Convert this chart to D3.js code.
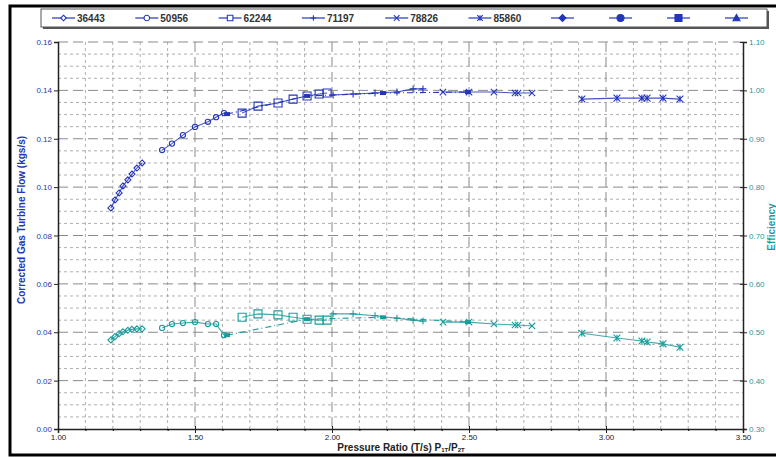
<!DOCTYPE html>
<html>
<head>
<meta charset="utf-8">
<script src="https://cdn.jsdelivr.net/npm/d3@7"></script>
<style>
  body { margin: 0; background: #fff; }
  svg { display: block; font-family: "Liberation Sans", Arial, sans-serif; }
</style>
</head>
<body>
<svg id="chart" width="776" height="457"></svg>
<script>
// speed lines (legend labels)
var speeds = ["36443", "50956", "62244", "71197", "78826", "85860"];

// pressure ratio, corrected flow and efficiency per speed line
var pr36443 = [1.193, 1.208, 1.223, 1.237, 1.255, 1.270, 1.288, 1.307];
var flow36443 = [0.0914, 0.0947, 0.0976, 0.1005, 0.1030, 0.1054, 0.1079, 0.1100];
var eff36443 = [0.484, 0.491, 0.497, 0.501, 0.504, 0.506, 0.507, 0.507];

var pr50956 = [1.380, 1.416, 1.456, 1.500, 1.547, 1.577, 1.606];
var flow50956 = [0.1153, 0.1180, 0.1215, 0.1249, 0.1270, 0.1289, 0.1306];
var eff50956 = [0.509, 0.517, 0.519, 0.521, 0.517, 0.517, 0.494];

var pr62244 = [1.672, 1.730, 1.803, 1.858, 1.909, 1.953, 1.982];
var flow62244 = [0.1306, 0.1335, 0.1348, 0.1364, 0.1377, 0.1385, 0.1389];
var eff62244 = [0.531, 0.538, 0.536, 0.531, 0.527, 0.525, 0.525];

var pr71197 = [2.004, 2.077, 2.157, 2.237, 2.296, 2.332];
var flow71197 = [0.1381, 0.1385, 0.1389, 0.1393, 0.1406, 0.1406];
var eff71197 = [0.538, 0.538, 0.534, 0.529, 0.525, 0.523];

var pr78826 = [2.405, 2.500, 2.591, 2.668, 2.679, 2.730];
var flow78826 = [0.1393, 0.1393, 0.1393, 0.1389, 0.1389, 0.1389];
var eff78826 = [0.521, 0.521, 0.517, 0.515, 0.515, 0.513];

var pr85860 = [2.912, 3.040, 3.131, 3.150, 3.208, 3.270];
var flow85860 = [0.1364, 0.1368, 0.1368, 0.1368, 0.1368, 0.1364];
var eff85860 = [0.498, 0.488, 0.482, 0.480, 0.476, 0.469];

// operating line (filled markers, dash-dot)
var prOp = [1.617, 1.909, 2.186, 2.496];
var flowOp = [0.1302, 0.1377, 0.1389, 0.1393];
var effOp = [0.494, 0.527, 0.531, 0.521];

var xTicks = [1.0, 1.5, 2.0, 2.5, 3.0, 3.5];
var yTicks = [0, 0.02, 0.04, 0.06, 0.08, 0.10, 0.12, 0.14, 0.16];
var y2Ticks = [0.3, 0.4, 0.5, 0.6, 0.7, 0.8, 0.9, 1.0, 1.1];

var blue = "#2436b8", teal = "#1a9c9c";

var series = [
  { name: speeds[0], shape: "diamond", pr: pr36443, flow: flow36443, eff: eff36443 },
  { name: speeds[1], shape: "circle", pr: pr50956, flow: flow50956, eff: eff50956 },
  { name: speeds[2], shape: "square", pr: pr62244, flow: flow62244, eff: eff62244 },
  { name: speeds[3], shape: "plus", pr: pr71197, flow: flow71197, eff: eff71197 },
  { name: speeds[4], shape: "x", pr: pr78826, flow: flow78826, eff: eff78826 },
  { name: speeds[5], shape: "star", pr: pr85860, flow: flow85860, eff: eff85860 }
];

function shapePath(shape, r) {
  switch (shape) {
    case "diamond": return "M0," + (-r) + "L" + r + ",0L0," + r + "L" + (-r) + ",0Z";
    case "circle": return d3.symbol(d3.symbolCircle, Math.PI * r * r)();
    case "square": return "M" + (-r) + "," + (-r) + "H" + r + "V" + r + "H" + (-r) + "Z";
    case "plus": return "M" + (-r) + ",0H" + r + "M0," + (-r) + "V" + r;
    case "x": return "M" + (-r) + "," + (-r) + "L" + r + "," + r + "M" + (-r) + "," + r + "L" + r + "," + (-r);
    case "star": return "M" + (-r) + "," + (-r) + "L" + r + "," + r + "M" + (-r) + "," + r + "L" + r + "," + (-r) + "M0," + (-r) + "V" + r;
    case "triangle": return "M0," + (-r) + "L" + r + "," + (r * 0.8) + "L" + (-r) + "," + (r * 0.8) + "Z";
  }
}
var shapeSize = { diamond: 3, circle: 2.6, square: 4, plus: 3.5, x: 3.2, star: 3.4 };

var margin = { top: 42, left: 58 }, width = 685, height = 387;
var svg = d3.select("#chart");

// outer frame
svg.append("rect").attr("x", 10).attr("y", 6).attr("width", 800).attr("height", 449)
  .attr("fill", "none").attr("stroke", "#000").attr("stroke-width", 3);

var g = svg.append("g").attr("transform", "translate(" + margin.left + "," + margin.top + ")");

var x = d3.scaleLinear().domain([1, 3.5]).range([0, width]);
var y = d3.scaleLinear().domain([0, 0.16]).range([height, 0]);
var y2 = d3.scaleLinear().domain([0.3, 1.1]).range([height, 0]);

// grid
var minorY = d3.range(0, 0.1601, 0.005).filter(function (v) { return Math.round(v * 1000) % 20 !== 0; });
var minorX = d3.range(1, 3.501, 0.1).filter(function (v) { return Math.round(v * 10) % 5 !== 0; });
var grid = g.append("g");
grid.selectAll(".mny").data(minorY).enter().append("line")
  .attr("x1", 0).attr("x2", width).attr("y1", function (d) { return y(d); }).attr("y2", function (d) { return y(d); })
  .attr("stroke", "#9a9a9a").attr("stroke-width", 0.8).attr("stroke-dasharray", "3,3");
grid.selectAll(".mnx").data(minorX).enter().append("line")
  .attr("y1", 0).attr("y2", height).attr("x1", function (d) { return x(d); }).attr("x2", function (d) { return x(d); })
  .attr("stroke", "#9a9a9a").attr("stroke-width", 0.8).attr("stroke-dasharray", "3,3");
grid.selectAll(".mjy").data(yTicks.slice(1)).enter().append("line")
  .attr("x1", 0).attr("x2", width).attr("y1", function (d) { return y(d); }).attr("y2", function (d) { return y(d); })
  .attr("stroke", "#8a8a8a").attr("stroke-width", 1).attr("stroke-dasharray", "10,5");
grid.selectAll(".mjx").data(xTicks.slice(1, -1)).enter().append("line")
  .attr("y1", 0).attr("y2", height).attr("x1", function (d) { return x(d); }).attr("x2", function (d) { return x(d); })
  .attr("stroke", "#8a8a8a").attr("stroke-width", 1).attr("stroke-dasharray", "10,5");

// axes
var fmt = d3.format(".2f");
var ax = g.append("g").attr("transform", "translate(0," + height + ")")
  .call(d3.axisBottom(x).tickValues(xTicks).tickFormat(fmt).tickSize(4).tickPadding(1));
g.append("g").attr("transform", "translate(0," + height + ")")
  .call(d3.axisBottom(x).tickValues(minorX).tickFormat("").tickSize(2))
  .select(".domain").remove();
var ay = g.append("g").call(d3.axisLeft(y).tickValues(yTicks).tickFormat(fmt).tickSize(4).tickPadding(2));
var ay2 = g.append("g").attr("transform", "translate(" + width + ",0)")
  .call(d3.axisRight(y2).tickValues(y2Ticks).tickFormat(fmt).tickSize(4).tickPadding(2));
ay2.selectAll(".tick line").attr("x1", -3);
ax.selectAll(".tick line").attr("y1", -3);

[ax, ay, ay2].forEach(function (a) {
  a.select(".domain").attr("stroke", "#222").attr("stroke-width", 1.5);
  a.selectAll(".tick line").attr("stroke", "#222");
  a.selectAll("text").attr("font-size", 8).attr("font-family", "Liberation Sans, Arial, sans-serif");
});
ax.selectAll("text").attr("fill", "#222");
ay.selectAll("text").attr("fill", blue);
ay2.selectAll("text").attr("fill", teal);

// axis titles
svg.append("text").attr("transform", "translate(25,220) rotate(-90)")
  .attr("text-anchor", "middle").attr("font-size", 10).attr("font-weight", "bold").attr("fill", blue)
  .text("Corrected Gas Turbine Flow (kgs/s)");
svg.append("text").attr("transform", "translate(775,227) rotate(-90)")
  .attr("text-anchor", "middle").attr("font-size", 10).attr("font-weight", "bold").attr("fill", teal)
  .text("Efficiency");
var xt = svg.append("text").attr("x", 401).attr("y", 450.5)
  .attr("text-anchor", "middle").attr("font-size", 10).attr("font-weight", "bold").attr("fill", "#222");
xt.append("tspan").text("Pressure Ratio (T/s) P");
xt.append("tspan").attr("font-size", 6).attr("dy", 1.5).text("1T");
xt.append("tspan").attr("dy", -1.5).text("/P");
xt.append("tspan").attr("font-size", 6).attr("dy", 1.5).text("2T");

// data
function drawSet(s, key, scale, color) {
  var pts = s.pr.map(function (p, i) { return [x(p), scale(s[key][i])]; });
  g.append("path").attr("d", d3.line()(pts)).attr("fill", "none")
    .attr("stroke", color).attr("stroke-width", 1.1).attr("stroke-opacity", 0.85);
  g.selectAll(null).data(pts).enter().append("path")
    .attr("transform", function (d) { return "translate(" + d[0] + "," + d[1] + ")"; })
    .attr("d", shapePath(s.shape, shapeSize[s.shape]))
    .attr("fill", "none").attr("stroke", color).attr("stroke-width", 1.1);
}
series.forEach(function (s) {
  drawSet(s, "flow", y, blue);
  drawSet(s, "eff", y2, teal);
});

function drawOp(vals, scale, color) {
  var pts = prOp.map(function (p, i) { return [x(p), scale(vals[i])]; });
  g.append("path").attr("d", d3.line()(pts)).attr("fill", "none")
    .attr("stroke", color).attr("stroke-width", 1.1).attr("stroke-dasharray", "6,3,1,3");
  g.selectAll(null).data(pts).enter().append("rect")
    .attr("x", function (d) { return d[0] - 3; }).attr("y", function (d) { return d[1] - 2; })
    .attr("width", 6).attr("height", 4).attr("fill", color);
}
drawOp(flowOp, y, blue);
drawOp(effOp, y2, teal);

// legend
var lg = svg.append("g");
lg.append("rect").attr("x", 43).attr("y", 11).attr("width", 726).attr("height", 18).attr("fill", "#555");
lg.append("rect").attr("x", 41).attr("y", 9).attr("width", 726).attr("height", 18)
  .attr("fill", "#fff").attr("stroke", "#555").attr("stroke-width", 1);
var legendItems = speeds.map(function (s, i) { return { label: s, shape: series[i].shape, fill: false, x0: 52 + i * 83.3 }; });
["diamond", "circle", "square", "triangle"].forEach(function (sh, i) {
  legendItems.push({ label: "", shape: sh, fill: true, x0: 551 + i * 58 });
});
legendItems.forEach(function (it) {
  var li = lg.append("g").attr("transform", "translate(" + it.x0 + ",18)");
  li.append("line").attr("x1", 0).attr("x2", 23).attr("stroke", blue).attr("stroke-width", 1.2);
  li.append("path").attr("transform", "translate(11.5,0)")
    .attr("d", shapePath(it.shape, it.fill ? 3.5 : 2.8))
    .attr("fill", it.fill ? blue : "#fff").attr("stroke", blue).attr("stroke-width", 1.1);
  if (it.label) {
    li.append("text").attr("x", 25).attr("y", 4).attr("font-size", 10).attr("font-weight", "bold")
      .attr("fill", "#333").text(it.label);
  }
});
</script>
</body>
</html>
